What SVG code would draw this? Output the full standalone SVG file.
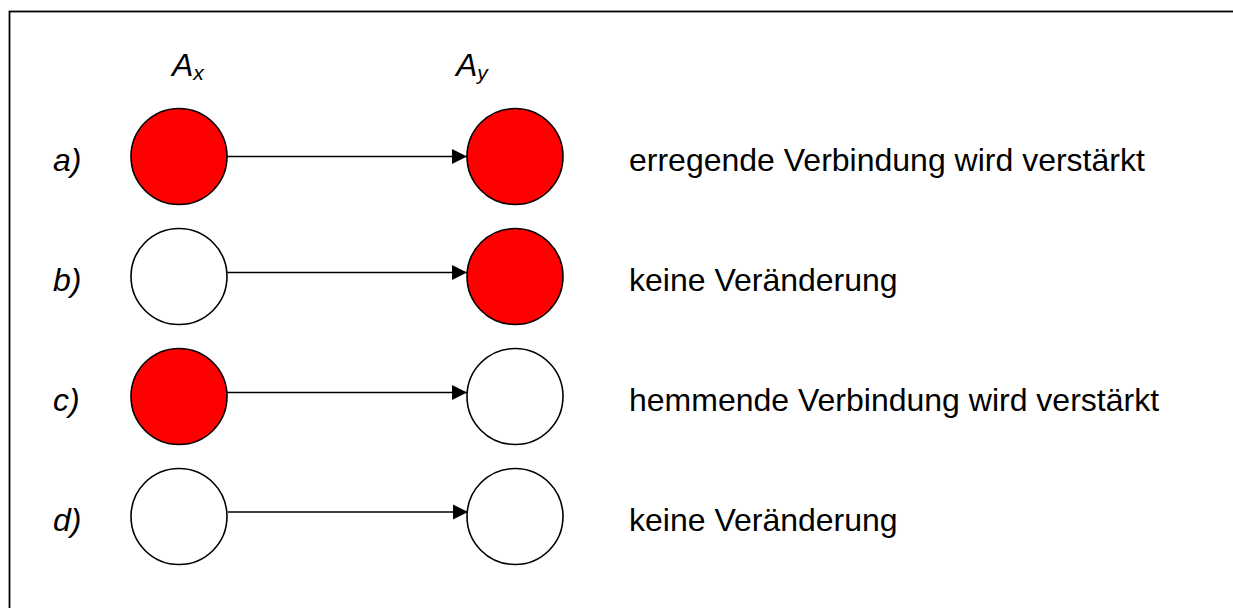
<svg xmlns="http://www.w3.org/2000/svg" width="1233" height="608" viewBox="0 0 1233 608">
<style>
  .frame{fill:none;stroke:#000;stroke-width:1.8}
  .on{fill:#ff0000;stroke:#000;stroke-width:1.6}
  .off{fill:#fff;stroke:#000;stroke-width:1.6}
  .conn{stroke:#000;stroke-width:1.6;fill:none;marker-end:url(#arr)}
  text{font-family:"Liberation Sans",Arial,sans-serif;font-size:32px;fill:#000}
  .it{font-style:italic}
  .sub{font-size:21px}
</style>
<defs>
  <marker id="arr" markerUnits="userSpaceOnUse" markerWidth="16" markerHeight="16" refX="15" refY="8" orient="auto">
    <path d="M0,0.5 L15,8 L0,15.5 z" fill="#000"/>
  </marker>
</defs>
<rect width="1233" height="608" fill="#fff"/>
<rect class="frame" x="9.5" y="11.5" width="1300" height="700"/>
<g id="headers">
  <text class="it" x="172" y="76">A<tspan class="sub" dy="4">x</tspan></text>
  <text class="it" x="456" y="76">A<tspan class="sub" dy="4">y</tspan></text>
</g>
<g id="row-labels">
  <text class="it" x="53" y="171">a)</text>
  <text class="it" x="53" y="291">b)</text>
  <text class="it" x="53" y="411">c)</text>
  <text class="it" x="53" y="531">d)</text>
</g>
<g id="connectors">
  <line class="conn" x1="227" y1="156.5" x2="467" y2="156.5"/>
  <line class="conn" x1="227" y1="272.5" x2="467" y2="272.5"/>
  <line class="conn" x1="227" y1="392.5" x2="467" y2="392.5"/>
  <line class="conn" x1="228" y1="512" x2="468" y2="512"/>
</g>
<g id="ax-a"><circle class="on" cx="179" cy="156.5" r="48"/></g>
<g id="ay-a"><circle class="on" cx="515" cy="156.5" r="48"/></g>
<g id="ax-b"><circle class="off" cx="179" cy="276.5" r="48"/></g>
<g id="ay-b"><circle class="on" cx="515" cy="276.5" r="48"/></g>
<g id="ax-c"><circle class="on" cx="179" cy="396.5" r="48"/></g>
<g id="ay-c"><circle class="off" cx="515" cy="396.5" r="48"/></g>
<g id="ax-d"><circle class="off" cx="179" cy="516.5" r="48"/></g>
<g id="ay-d"><circle class="off" cx="515" cy="516.5" r="48"/></g>
<g id="descriptions">
  <text x="629" y="171">erregende Verbindung wird verstärkt</text>
  <text x="629" y="291">keine Veränderung</text>
  <text x="629" y="411">hemmende Verbindung wird verstärkt</text>
  <text x="629" y="531">keine Veränderung</text>
</g>
</svg>
